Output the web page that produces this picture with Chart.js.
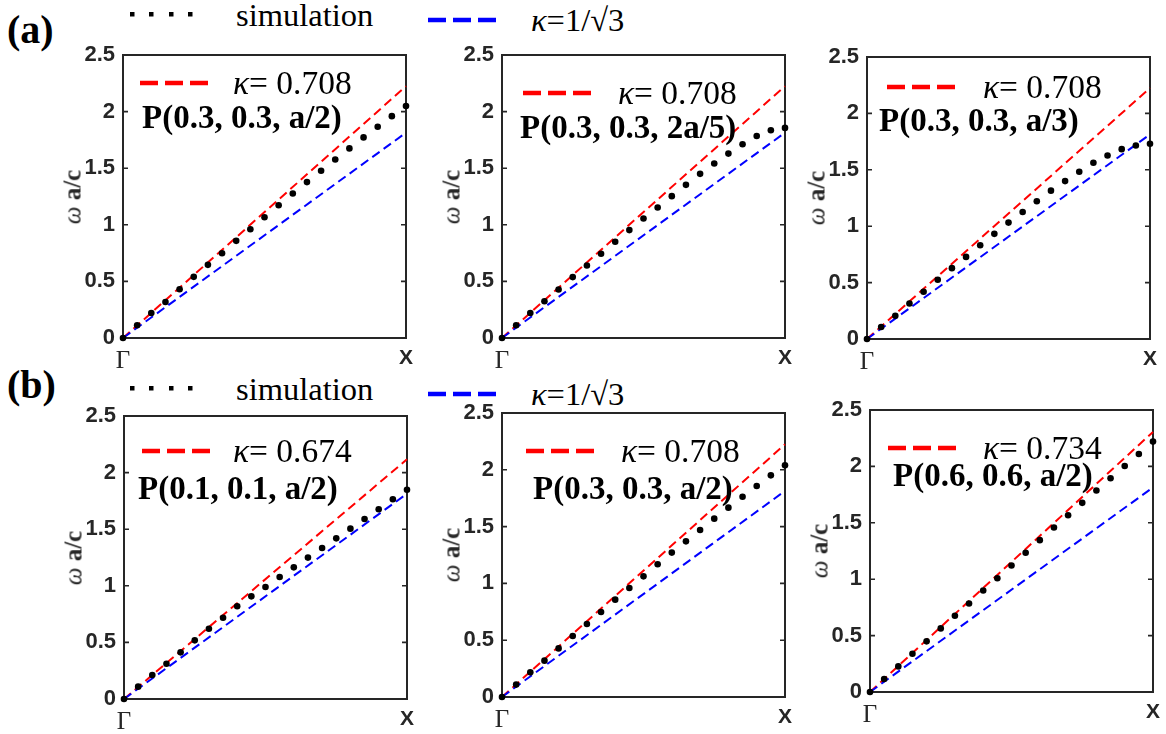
<!DOCTYPE html>
<html>
<head>
<meta charset="utf-8">
<script src="https://cdn.jsdelivr.net/npm/chart.js@4.4.1/dist/chart.umd.min.js"></script>
<style>
  html, body { margin: 0; padding: 0; background: #fff; }
  body { width: 1166px; height: 734px; position: relative; overflow: hidden; font-family: "Liberation Serif", "Times New Roman", serif; }
  .abs { position: absolute; white-space: nowrap; line-height: 1; }
  .vc { transform: translateY(-50%); }
  .panel { position: absolute; }
  .ylab { position: absolute; white-space: nowrap; line-height: 1; font-size: 25px; color: #262626;
          transform: translate(-50%, -50%) rotate(-90deg); }
</style>
</head>
<body>
<script>
// Wave-vector samples along Γ–X, as fractions of π/a
const kFrac = [0, 0.05, 0.1, 0.15, 0.2, 0.25, 0.3, 0.35, 0.4, 0.45, 0.5,
               0.55, 0.6, 0.65, 0.7, 0.75, 0.8, 0.85, 0.9, 0.95, 1];

// Simulated dispersion ω a/c, row (a)
const simA1 = [0, 0.112, 0.221, 0.318, 0.430, 0.540, 0.646, 0.749, 0.858, 0.961, 1.067,
               1.173, 1.277, 1.377, 1.477, 1.577, 1.675, 1.772, 1.866, 1.960, 2.049];
const simA2 = [0, 0.112, 0.221, 0.324, 0.429, 0.538, 0.641, 0.744, 0.850, 0.953, 1.056,
               1.153, 1.253, 1.353, 1.450, 1.541, 1.629, 1.712, 1.785, 1.835, 1.856];
const simA3 = [0, 0.106, 0.206, 0.315, 0.419, 0.525, 0.628, 0.728, 0.831, 0.932, 1.032,
               1.126, 1.221, 1.315, 1.400, 1.483, 1.562, 1.627, 1.683, 1.716, 1.731];
// Simulated dispersion ω a/c, row (b)
const simB1 = [0, 0.109, 0.212, 0.312, 0.412, 0.518, 0.621, 0.718, 0.819, 0.907, 0.989,
               1.078, 1.163, 1.249, 1.334, 1.419, 1.505, 1.590, 1.676, 1.764, 1.849];
const simB2 = [0, 0.109, 0.217, 0.320, 0.428, 0.537, 0.643, 0.748, 0.857, 0.959, 1.062,
               1.168, 1.271, 1.370, 1.470, 1.570, 1.667, 1.763, 1.857, 1.951, 2.039];
const simB3 = [0, 0.115, 0.227, 0.339, 0.449, 0.564, 0.676, 0.785, 0.900, 1.009, 1.122,
               1.234, 1.346, 1.458, 1.567, 1.677, 1.786, 1.895, 2.004, 2.110, 2.220];

// Fitted slopes κ (ω a/c = κ k a) and the reference slope 1/√3
const kappaA = [0.708, 0.708, 0.708];
const kappaB = [0.674, 0.708, 0.734];
const kappaRef = 1 / Math.sqrt(3);

const pointLabelsA = ['P(0.3, 0.3, a/2)', 'P(0.3, 0.3, 2a/5)', 'P(0.3, 0.3, a/3)'];
const pointLabelsB = ['P(0.1, 0.1, a/2)', 'P(0.3, 0.3, a/2)', 'P(0.6, 0.6, a/2)'];

const yTickValues = [0, 0.5, 1, 1.5, 2, 2.5];
const xTickLabels = ['Γ', 'X'];

// ---- page layout (pixel boxes of each plot area and its inset legend) ----
const AXIS = '#262626';
const PAD_L = 70, PAD_T = 22, PAD_R = 16, PAD_B = 36;

const panels = [
  { box: [123, 55, 406, 338],  sim: simA1, kappa: kappaA[0], label: pointLabelsA[0], dash: [17, 28], kx: 110, p: [19, 62] },
  { box: [502, 55, 785, 338],  sim: simA2, kappa: kappaA[1], label: pointLabelsA[1], dash: [21, 38], kx: 116, p: [18, 72] },
  { box: [867, 57, 1150, 339], sim: simA3, kappa: kappaA[2], label: pointLabelsA[2], dash: [20, 30], kx: 116, p: [12, 63] },
  { box: [124, 416, 407, 699], sim: simB1, kappa: kappaB[0], label: pointLabelsB[0], dash: [18, 35], kx: 109, p: [14, 72] },
  { box: [502, 413, 785, 697], sim: simB2, kappa: kappaB[1], label: pointLabelsB[1], dash: [24, 38], kx: 119, p: [31, 75] },
  { box: [870, 410, 1153, 692], sim: simB3, kappa: kappaB[2], label: pointLabelsB[2], dash: [18, 38], kx: 113, p: [23, 65] },
];

function addEl(tag, cls, html, style) {
  const el = document.createElement(tag);
  if (cls) el.className = cls;
  el.innerHTML = html;
  Object.assign(el.style, style);
  document.body.appendChild(el);
  return el;
}

function dashSample(x, y, color, w) {
  const svg = `<svg width="${w}" height="10" style="display:block"><line x1="0" y1="5" x2="${w}" y2="5" stroke="${color}" stroke-width="4.5" stroke-dasharray="18 7"/></svg>`;
  addEl('div', 'abs', svg, { left: x + 'px', top: (y - 5) + 'px' });
}

function dotSample(x, y) {
  const xs = [0, 19, 39, 58];
  const rects = xs.map(d => `<rect x="${d}" y="0" width="4.5" height="4.5" fill="#000"/>`).join('');
  addEl('div', 'abs', `<svg width="64" height="5" style="display:block">${rects}</svg>`, { left: x + 'px', top: (y - 2) + 'px' });
}

// Row headers and shared legends
function rowHeader(tag, ty, dotY, blueY) {
  addEl('div', 'abs vc', tag, { left: '7px', top: ty + 'px', fontSize: '40px', fontWeight: 'bold' });
  dotSample(130, dotY);
  addEl('div', 'abs vc', 'simulation', { left: '236px', top: (dotY + 1) + 'px', fontSize: '32.5px' });
  dashSample(428, blueY, '#0000ff', 70);
  addEl('div', 'abs vc', '<i>κ</i>=1/√3', { left: '531px', top: blueY + 'px', fontSize: '32.5px' });
}
rowHeader('(a)', 30, 14, 20);
rowHeader('(b)', 385, 388, 394);

// Frame with inward ticks on both vertical sides
const framePlugin = {
  id: 'frame',
  beforeDatasetsDraw(chart) {
    const { ctx, chartArea: a, scales } = chart;
    ctx.save();
    ctx.strokeStyle = AXIS;
    ctx.lineWidth = 2;
    ctx.strokeRect(a.left, a.top, a.right - a.left, a.bottom - a.top);
    ctx.lineWidth = 1.6;
    yTickValues.forEach(v => {
      const py = scales.y.getPixelForValue(v);
      ctx.beginPath();
      ctx.moveTo(a.left, py); ctx.lineTo(a.left + 5, py);
      ctx.moveTo(a.right, py); ctx.lineTo(a.right - 5, py);
      ctx.stroke();
    });
    ctx.restore();
  }
};

panels.forEach(pn => {
  const [L, T, R, B] = pn.box;
  const w = R - L + PAD_L + PAD_R;
  const h = B - T + PAD_T + PAD_B;
  const wrap = addEl('div', 'panel', '', { left: (L - PAD_L) + 'px', top: (T - PAD_T) + 'px', width: w + 'px', height: h + 'px' });
  const canvas = document.createElement('canvas');
  canvas.width = w; canvas.height = h;
  canvas.style.width = w + 'px'; canvas.style.height = h + 'px';
  wrap.appendChild(canvas);

  const kMax = Math.PI;
  new Chart(canvas, {
    type: 'scatter',
    data: {
      datasets: [
        {
          label: 'simulation',
          data: pn.sim.map((v, i) => ({ x: kFrac[i] * kMax, y: v })),
          pointRadius: 3.3, pointBackgroundColor: '#000', pointBorderWidth: 0,
          showLine: false, clip: false
        },
        {
          label: 'κ=1/√3',
          data: [{ x: 0, y: 0 }, { x: kMax, y: kappaRef * kMax }],
          showLine: true, borderColor: '#0000ff', borderWidth: 2, borderDash: [9, 5],
          pointRadius: 0, clip: false
        },
        {
          label: 'κ= ' + pn.kappa,
          data: [{ x: 0, y: 0 }, { x: kMax, y: pn.kappa * kMax }],
          showLine: true, borderColor: '#ff0000', borderWidth: 2, borderDash: [9, 5],
          pointRadius: 0, clip: false
        }
      ]
    },
    options: {
      responsive: false, animation: false, events: [],
      layout: { padding: { top: PAD_T, right: PAD_R, left: 0, bottom: 0 } },
      plugins: { legend: { display: false }, tooltip: { enabled: false } },
      scales: {
        x: {
          type: 'linear', min: 0, max: kMax,
          afterBuildTicks: s => { s.ticks = [{ value: 0 }, { value: kMax }]; },
          afterFit: s => { s.height = PAD_B; },
          grid: { display: false, drawTicks: false }, border: { display: false },
          ticks: {
            autoSkip: false, maxRotation: 0, padding: 8, color: AXIS,
            callback: (v, i) => xTickLabels[i],
            font: c => c.index === 0
              ? { family: 'Liberation Serif', size: 25 }
              : { family: 'Liberation Sans', size: 21, weight: 'bold' }
          }
        },
        y: {
          min: 0, max: 2.5,
          afterBuildTicks: s => { s.ticks = yTickValues.map(v => ({ value: v })); },
          afterFit: s => { s.width = PAD_L; },
          grid: { display: false, drawTicks: false }, border: { display: false },
          ticks: {
            padding: 8, color: AXIS,
            font: { family: 'Liberation Sans', size: 22, weight: 'bold' },
            callback: v => String(v)
          }
        }
      }
    },
    plugins: [framePlugin]
  });

  // y-axis title
  addEl('div', 'ylab', '<i>ω</i> <b>a/c</b>', { left: (L - 51) + 'px', top: ((T + B) / 2) + 'px' });
  // inset legend: fitted slope and source position
  dashSample(L + pn.dash[0], T + pn.dash[1], '#ff0000', 70);
  addEl('div', 'abs vc', '<i>κ</i>= ' + pn.kappa.toFixed(3), { left: (L + pn.kx) + 'px', top: (T + pn.dash[1]) + 'px', fontSize: '33.5px' });
  addEl('div', 'abs vc', pn.label, { left: (L + pn.p[0]) + 'px', top: (T + pn.p[1]) + 'px', fontSize: '33px', fontWeight: 'bold' });
});
</script>
</body>
</html>
